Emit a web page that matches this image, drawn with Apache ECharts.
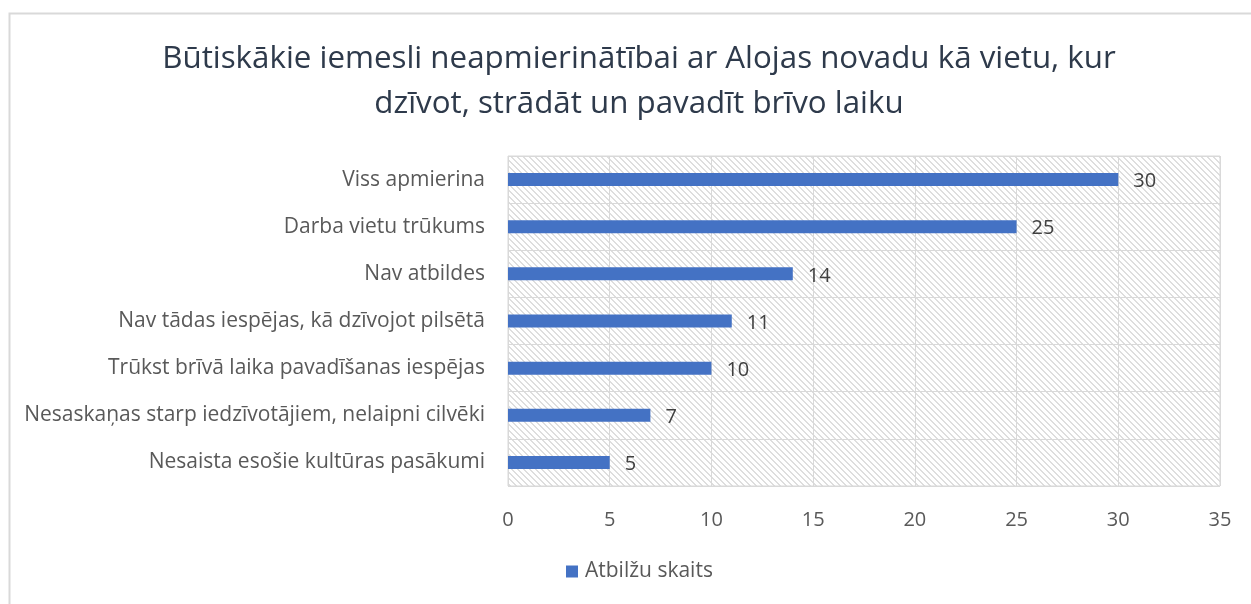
<!DOCTYPE html>
<html>
<head>
<meta charset="utf-8">
<script src="https://cdn.jsdelivr.net/npm/echarts@6/dist/echarts.min.js"></script>
<style>html,body{margin:0;padding:0;background:#fff}#c{width:1251px;height:604px}</style>
</head>
<body>
<div id="c"></div>
<script>
var titleLines = ['Būtiskākie iemesli neapmierinātībai ar Alojas novadu kā vietu, kur', 'dzīvot, strādāt un pavadīt brīvo laiku'];
var categories = ['Nesaista esošie kultūras pasākumi', 'Nesaskaņas starp iedzīvotājiem, nelaipni cilvēki', 'Trūkst brīvā laika pavadīšanas iespējas', 'Nav tādas iespējas, kā dzīvojot pilsētā', 'Nav atbildes', 'Darba vietu trūkums', 'Viss apmierina'];
var values = [5, 7, 10, 11, 14, 25, 30];
var seriesName = 'Atbilžu skaits';
var xTicks = {min: 0, max: 35, interval: 5};

function hatch() {
  var n = 6;
  var cv = document.createElement('canvas');
  cv.width = n; cv.height = n;
  var ctx = cv.getContext('2d');
  ctx.fillStyle = '#ffffff';
  ctx.fillRect(0, 0, n, n);
  ctx.fillStyle = '#dedede';
  for (var i = 0; i < n; i++) {
    ctx.fillRect(i, i, 1, 1);
    ctx.fillRect((i + 1) % n, i, 1, 1);
  }
  return cv;
}

var font = 'Open Sans';
var chart = echarts.init(document.getElementById('c'));
chart.setOption({
  animation: false,
  backgroundColor: '#ffffff',
  textStyle: {fontFamily: font},
  title: {
    text: titleLines.join('\n'),
    left: 634,
    textAlign: 'center',
    top: 32,
    textStyle: {fontFamily: font, fontSize: 31.3, fontWeight: 'normal', color: '#2e3a4b', lineHeight: 45}
  },
  graphic: [{
    type: 'rect', left: 7, top: 11, silent: true,
    shape: {width: 1400, height: 800},
    style: {fill: 'none', stroke: '#d9d9d9', lineWidth: 2}
  }],
  legend: {
    bottom: 17,
    left: 561,
    itemWidth: 12, itemHeight: 12, icon: 'rect', itemGap: 10,
    textStyle: {fontFamily: font, fontSize: 21, color: '#595959', padding: [0, 0, 0, 2]},
    data: [seriesName]
  },
  grid: {
    left: 508, right: 31, top: 156, bottom: 118,
    show: true,
    backgroundColor: {image: hatch(), repeat: 'repeat'},
    borderColor: '#d9d9d9', borderWidth: 1
  },
  xAxis: {
    type: 'value', min: xTicks.min, max: xTicks.max, interval: xTicks.interval,
    axisLine: {show: false}, axisTick: {show: false},
    splitLine: {lineStyle: {color: '#d9d9d9', width: 1}},
    axisLabel: {fontFamily: font, fontSize: 20, color: '#595959', margin: 24}
  },
  yAxis: {
    type: 'category', data: categories,
    axisLine: {show: false}, axisTick: {show: false},
    splitLine: {show: true, lineStyle: {color: '#d9d9d9', width: 1}},
    axisLabel: {fontFamily: font, fontSize: 21, color: '#595959', margin: 23, padding: [3, 0, 0, 0]}
  },
  series: [{
    name: seriesName, type: 'bar', data: values, barWidth: 13,
    itemStyle: {color: '#4472c4'},
    label: {show: true, position: 'right', distance: 15, offset: [0, 2], fontFamily: font, fontSize: 20, color: '#404040'}
  }]
});
</script>
</body>
</html>
